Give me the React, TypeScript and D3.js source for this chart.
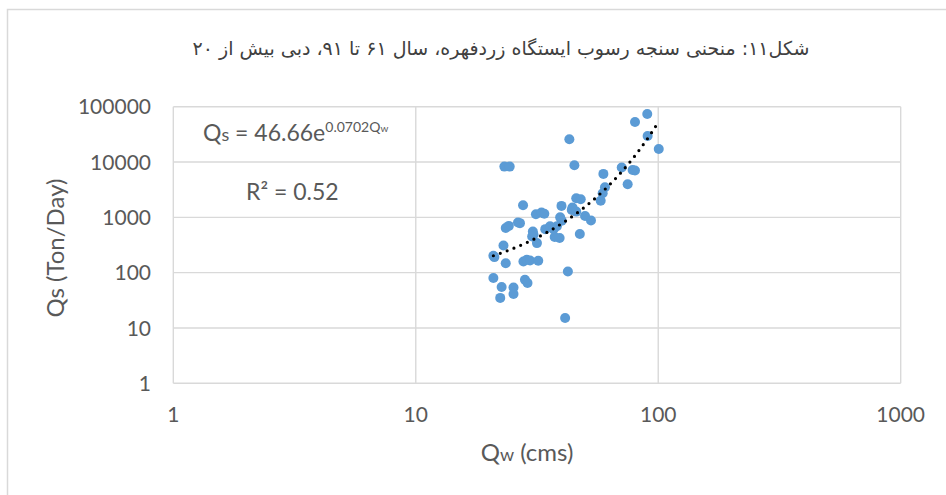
import React from "react";
import * as d3 from "d3";

// discharge (cms) and sediment load (ton/day)
const qw = [
  90.1, 80.2, 43.0, 90.4, 100.5, 23.2, 24.4, 45.1, 70.7, 78.4, 80.2, 59.4, 74.8, 60.3, 59.0, 57.9,
  45.9, 47.9, 27.7, 39.9, 44.0, 45.9, 44.3, 49.9, 52.8, 31.3, 33.0, 33.9, 39.4, 40.0, 23.5, 24.2,
  26.4, 26.9, 30.4, 30.6, 30.2, 31.6, 34.2, 35.8, 37.0, 38.2, 37.4, 39.2, 47.5, 23.0, 20.9, 21.1,
  23.5, 27.8, 28.7, 29.6, 32.0, 42.4, 20.9, 28.2, 28.9, 22.6, 25.3, 25.3, 22.3, 41.3,
];
const qs = [
  73800, 53000, 25800, 29600, 17200, 8260, 8260, 8750, 7940, 7200, 7000, 6100, 3970, 3510, 2730, 1990,
  2220, 2130, 1660, 1610, 1360, 1270, 1500, 1060, 875, 1140, 1220, 1160, 1000, 870, 640, 700,
  805, 785, 555, 483, 450, 342, 612, 688, 612, 688, 440, 422, 498, 310, 202, 191,
  148, 159, 171, 166, 164, 105, 80, 74.5, 65, 55, 54, 41, 35, 15.1,
];

const xTicks = [1, 10, 100, 1000];
const yTicks = [1, 10, 100, 1000, 10000, 100000];

const trendA = 46.66;
const trendB = 0.0702;

const title = "شکل۱۱: منحنی سنجه رسوب ایستگاه زردفهره، سال ۶۱ تا ۹۱، دبی  بیش از ۲۰";

const W = 946;
const H = 495;
const left = 173.3;
const right = 900.7;
const top = 106.7;
const bottom = 383.3;

const font = "Lato, 'Open Sans', sans-serif";
const grey = "#595959";
const grid = "#d9d9d9";

export default function App() {
  const x = d3.scaleLog().domain([1, 1000]).range([left, right]);
  const y = d3.scaleLog().domain([1, 100000]).range([bottom, top]);

  const [qMin, qMax] = d3.extent(qw) as [number, number];
  const trendPts = d3.range(0, 201).map((i) => {
    const q = qMin + ((qMax - qMin) * i) / 200;
    return [q, trendA * Math.exp(trendB * q)] as [number, number];
  });
  const trend = d3
    .line<[number, number]>()
    .x((d) => x(d[0]))
    .y((d) => y(d[1]))(trendPts);

  return (
    <svg width={W} height={H} style={{ display: "block" }}>
      <style>{"body{margin:0}"}</style>
      <rect width={W} height={H} fill="#fff" />
      <rect x={7.5} y={9.5} width={W + 20} height={H + 20} fill="none" stroke={grid} strokeWidth={1.5} />

      <text
        x={501}
        y={55}
        textAnchor="middle"
        fontFamily="'DejaVu Sans', sans-serif"
        fontSize={19}
        fill="#404040"
        direction="rtl"
      >
        {title}
      </text>

      {yTicks.map((t) => (
        <line key={"gy" + t} x1={left} x2={right} y1={y(t)} y2={y(t)} stroke={grid} strokeWidth={1.4} />
      ))}
      {xTicks.map((t) => (
        <line key={"gx" + t} x1={x(t)} x2={x(t)} y1={top} y2={bottom} stroke={grid} strokeWidth={1.4} />
      ))}

      {yTicks.map((t) => (
        <text
          key={"ty" + t}
          x={151}
          y={y(t)}
          dy="0.36em"
          textAnchor="end"
          fontFamily={font}
          fontSize={21}
          fill={grey}
        >
          {t}
        </text>
      ))}
      {xTicks.map((t) => (
        <text
          key={"tx" + t}
          x={x(t)}
          y={422}
          textAnchor="middle"
          fontFamily={font}
          fontSize={21}
          fill={grey}
        >
          {t}
        </text>
      ))}

      <text x={527} y={461} textAnchor="middle" fontFamily={font} fontSize={24} fill={grey}>
        Q<tspan fontSize={18}>w</tspan> (cms)
      </text>
      <text
        transform={`translate(64,248) rotate(-90)`}
        textAnchor="middle"
        fontFamily={font}
        fontSize={24}
        fill={grey}
      >
        Qs (Ton/Day)
      </text>

      {qw.map((q, i) => (
        <circle key={"p" + i} cx={x(q)} cy={y(qs[i])} r={5} fill="#5b9bd5" />
      ))}

      <path
        d={trend ?? ""}
        fill="none"
        stroke="#000"
        strokeWidth={3.2}
        strokeLinecap="round"
        strokeDasharray="0 7.3"
      />

      <text x={203} y={141} fontFamily={font} fontSize={23} fill={grey}>
        Q<tspan fontSize={18}>s</tspan> = 46.66e
        <tspan fontSize={14} dy={-9}>
          0.0702Q
        </tspan>
        <tspan fontSize={10}>w</tspan>
      </text>
      <text x={246} y={200} fontFamily={font} fontSize={23} fill={grey}>
        R² = 0.52
      </text>
    </svg>
  );
}
